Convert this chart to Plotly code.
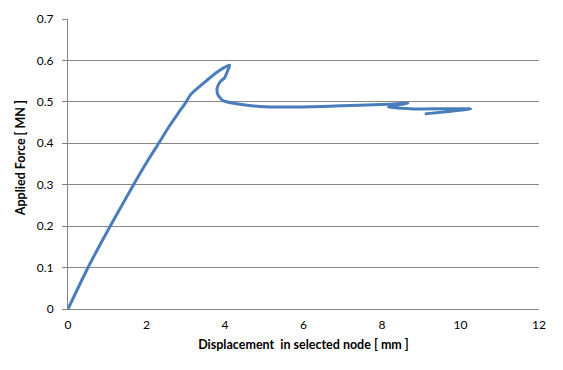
import plotly.graph_objects as go

displacement_mm = [0.0, 0.52, 1.07, 1.67, 1.99, 2.31, 2.58, 2.81, 2.99, 3.13, 3.44, 3.80,
                   4.00, 4.12, 4.08, 3.99, 3.88, 3.80, 3.82, 3.95, 4.38, 4.89, 5.51,
                   6.51, 7.43, 8.16, 8.66, 8.16, 8.80, 10.26, 9.71, 9.09]
force_MN = [0.0, 0.102, 0.199, 0.300, 0.352, 0.400, 0.441, 0.473, 0.497, 0.518, 0.544, 0.572,
            0.584, 0.589, 0.578, 0.558, 0.549, 0.533, 0.517, 0.503, 0.494, 0.489, 0.4875,
            0.489, 0.492, 0.494, 0.497, 0.487, 0.483, 0.483, 0.477, 0.471]

x_ticks = [0, 2, 4, 6, 8, 10, 12]
y_ticks = [0, 0.1, 0.2, 0.3, 0.4, 0.5, 0.6, 0.7]
y_tick_text = ["0", "0.1", "0.2", "0.3", "0.4", "0.5", "0.6", "0.7"]

fig = go.Figure()
fig.add_trace(go.Scatter(
    x=displacement_mm, y=force_MN, mode="lines",
    line=dict(color="#4A7EBB", width=3, shape="spline", smoothing=0.6),
    showlegend=False,
))

font_family = "Lato, 'Open Sans', sans-serif"
fig.update_layout(
    width=555, height=362,
    margin=dict(l=60, r=24, t=11, b=61, autoexpand=False),
    paper_bgcolor="white", plot_bgcolor="white",
    font=dict(family=font_family, size=12, color="#000000"),
    xaxis=dict(
        range=[0, 12], tickvals=x_ticks, ticktext=[str(v) for v in x_ticks],
        showgrid=False, zeroline=False, showline=True, linecolor="#868686", linewidth=1,
        ticks="", ticklabelstandoff=5, automargin=False,
        title=dict(text="<b>Displacement  in selected node [ mm ]</b>", standoff=8,
                   font=dict(size=12.5)),
    ),
    yaxis=dict(
        range=[0, 0.7], tickvals=y_ticks, ticktext=y_tick_text,
        showgrid=True, gridcolor="#868686", gridwidth=1,
        zeroline=False, showline=True, linecolor="#868686", linewidth=1,
        ticks="outside", ticklen=5, tickcolor="#868686", ticklabelstandoff=6,
        automargin=False,
    ),
    annotations=[dict(
        text="<b>Applied Force [ MN ]</b>", textangle=-90,
        xref="paper", yref="paper", x=-0.102, y=0.52,
        xanchor="center", yanchor="middle", showarrow=False,
        font=dict(size=12.5),
    )],
)

fig.write_html("out.html")
